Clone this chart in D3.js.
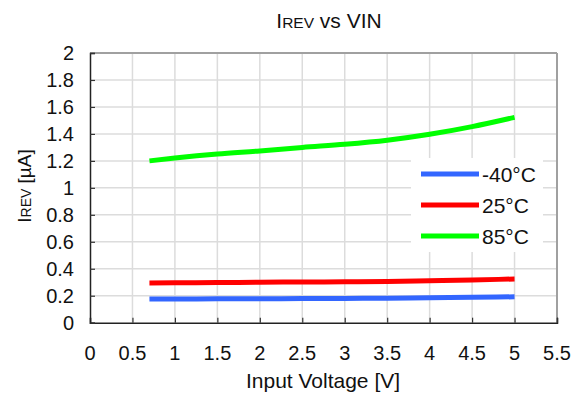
<!DOCTYPE html>
<html>
<head>
<meta charset="utf-8">
<script src="https://cdn.jsdelivr.net/npm/d3@7"></script>
<style>
  body { margin: 0; background: #fff; }
  svg text { font-family: "Liberation Sans", Arial, sans-serif; fill: #111; }
</style>
</head>
<body>
<svg id="chart" width="585" height="397"></svg>
<script>
// Reverse current vs input voltage at three temperatures
const vin = [0.7, 1, 1.5, 2, 2.5, 3, 3.5, 4, 4.5, 5];
const irevCold = [0.175, 0.176, 0.177, 0.178, 0.179, 0.180, 0.182, 0.185, 0.188, 0.192];
const irevRoom = [0.295, 0.296, 0.298, 0.300, 0.302, 0.303, 0.306, 0.311, 0.317, 0.324];
const irevHot  = [1.200, 1.221, 1.251, 1.274, 1.300, 1.323, 1.353, 1.397, 1.454, 1.523];
const seriesNames = ["-40°C", "25°C", "85°C"];
const seriesColors = ["#3366ff", "#ff0000", "#00ff00"];
const xTicks = [0, 0.5, 1, 1.5, 2, 2.5, 3, 3.5, 4, 4.5, 5, 5.5];
const yTicks = [0, 0.2, 0.4, 0.6, 0.8, 1, 1.2, 1.4, 1.6, 1.8, 2];

const svg = d3.select("#chart");
const m = { left: 90, right: 557, top: 53, bottom: 322.7 };
const x = d3.scaleLinear().domain([0, 5.5]).range([m.left, m.right]);
const y = d3.scaleLinear().domain([0, 2]).range([m.bottom, m.top]);

// grid
const grid = svg.append("g").attr("stroke", "#dcdcdc").attr("stroke-width", 1.5);
xTicks.slice(1, -1).forEach(t => grid.append("line")
  .attr("x1", x(t)).attr("x2", x(t)).attr("y1", m.top).attr("y2", m.bottom));
yTicks.slice(1, -1).forEach(t => grid.append("line")
  .attr("x1", m.left).attr("x2", m.right).attr("y1", y(t)).attr("y2", y(t)));

// frame: top and right in grey
svg.append("line").attr("x1", m.left).attr("x2", m.right).attr("y1", m.top).attr("y2", m.top)
  .attr("stroke", "#a0a0a0").attr("stroke-width", 2);
svg.append("line").attr("x1", m.right).attr("x2", m.right).attr("y1", m.top).attr("y2", m.bottom)
  .attr("stroke", "#a0a0a0").attr("stroke-width", 2);

// axes with inward ticks
const xAxis = svg.append("g").attr("transform", `translate(0,${m.bottom})`)
  .call(d3.axisTop(x).tickValues(xTicks).tickSize(5).tickFormat(""));
xAxis.select(".domain").attr("stroke", "#222").attr("stroke-width", 1.5);
xAxis.selectAll(".tick line").attr("stroke", "#333").attr("stroke-width", 1.2);
const yAxis = svg.append("g").attr("transform", `translate(${m.left},0)`)
  .call(d3.axisRight(y).tickValues(yTicks).tickSize(5).tickFormat(""));
yAxis.select(".domain").attr("stroke", "#222").attr("stroke-width", 1.5);
yAxis.selectAll(".tick line").attr("stroke", "#333").attr("stroke-width", 1.2);

// tick labels
svg.append("g").selectAll("text").data(xTicks).join("text")
  .attr("x", d => x(d)).attr("y", 360).attr("text-anchor", "middle")
  .attr("font-size", 20).text(d => d);
svg.append("g").selectAll("text").data(yTicks).join("text")
  .attr("x", 74).attr("y", d => y(d) + 7).attr("text-anchor", "end")
  .attr("font-size", 20).text(d => d);

// titles
const title = svg.append("text").attr("x", 329).attr("y", 28).attr("text-anchor", "middle").attr("font-size", 21);
title.append("tspan").text("I");
title.append("tspan").attr("font-size", 15.5).text("REV");
title.append("tspan").text(" vs VIN");

svg.append("text").attr("x", 323).attr("y", 388)
  .attr("text-anchor", "middle").attr("font-size", 21).text("Input Voltage [V]");

const ylab = svg.append("text").attr("transform", "translate(31,186) rotate(-90)")
  .attr("text-anchor", "middle").attr("font-size", 19);
ylab.append("tspan").text("I");
ylab.append("tspan").attr("font-size", 14).text("REV");
ylab.append("tspan").text(" [µA]");

// curves
const line = d3.line().x(d => x(d[0])).y(d => y(d[1])).curve(d3.curveMonotoneX);
[irevCold, irevRoom, irevHot].forEach((vals, i) => {
  svg.append("path").datum(vin.map((v, j) => [v, vals[j]]))
    .attr("d", line).attr("fill", "none")
    .attr("stroke", seriesColors[i]).attr("stroke-width", 5);
});

// legend
svg.append("rect").attr("x", 411).attr("y", 158).attr("width", 132).attr("height", 94).attr("fill", "#fff");
const lg = svg.append("g").selectAll("g").data(seriesNames).join("g")
  .attr("transform", (d, i) => `translate(421,${174 + i * 31})`);
lg.append("line").attr("x1", 0).attr("x2", 58)
  .attr("stroke", (d, i) => seriesColors[i]).attr("stroke-width", 5);
lg.append("text").attr("x", 61).attr("y", 8).attr("font-size", 21).text(d => d);
</script>
</body>
</html>
